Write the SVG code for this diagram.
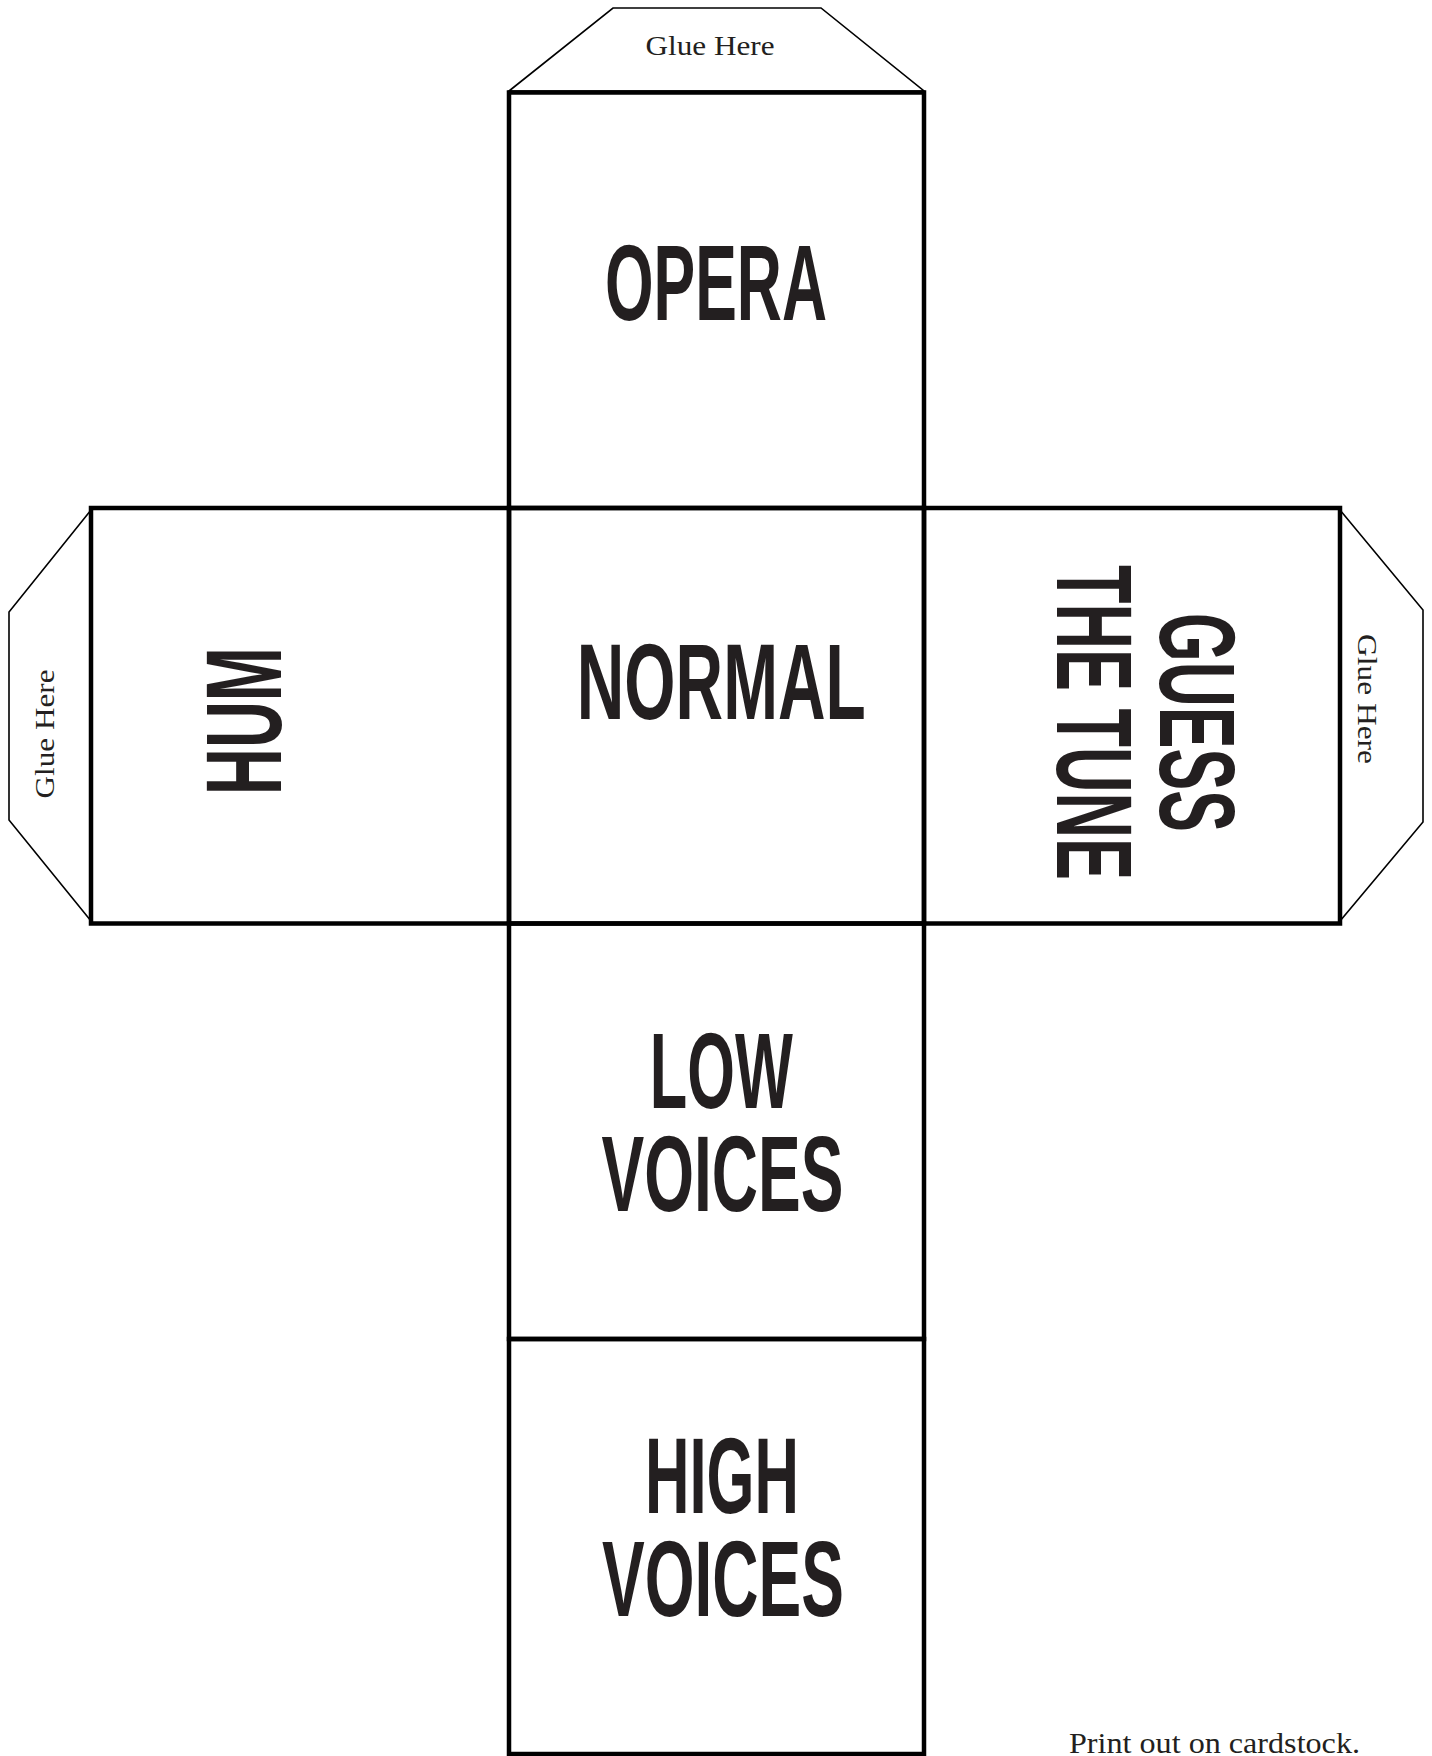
<svg xmlns="http://www.w3.org/2000/svg" width="1432" height="1756" viewBox="0 0 1432 1756">
<style>
.face{fill:none;stroke:#000;stroke-width:4.5;stroke-linecap:square}
.tab{fill:#fff;stroke:#000;stroke-width:1.6;stroke-linejoin:miter}
.big{font-family:"Liberation Sans",Arial,sans-serif;font-weight:bold;font-size:108px;fill:#231f20;text-anchor:middle}
.glue{font-family:"Liberation Serif","Times New Roman",serif;font-size:27px;fill:#231f20;text-anchor:middle}
.note{font-family:"Liberation Serif","Times New Roman",serif;font-size:29px;fill:#231f20}
</style>
<rect width="1432" height="1756" fill="#fff"/>
<g id="connectors">
<polygon id="tab-top" class="tab" points="509,91 613,8 821,8 924,91"/>
<polygon id="tab-left" class="tab" points="91,510 9,612 9,820 91,921"/>
<polygon id="tab-right" class="tab" points="1340,510 1423,610 1423,822 1340,921"/>
</g>
<g id="glue-top"><text class="glue" x="710" y="55" textLength="129" lengthAdjust="spacingAndGlyphs">Glue Here</text></g>
<g id="glue-left"><text class="glue" transform="translate(54,734) rotate(-90)" x="0" y="0" textLength="129" lengthAdjust="spacingAndGlyphs">Glue Here</text></g>
<g id="glue-right"><text class="glue" transform="translate(1358,699) rotate(90)" x="0" y="0" textLength="130" lengthAdjust="spacingAndGlyphs">Glue Here</text></g>
<g id="face-opera">
<rect class="face" x="509" y="92.5" width="415" height="415.5"/>
<text class="big" x="716" y="320" textLength="222" lengthAdjust="spacingAndGlyphs">OPERA</text>
</g>
<g id="face-hum">
<rect class="face" x="91" y="508" width="418" height="415.5"/>
<text class="big" transform="translate(281,721) rotate(-90)" x="0" y="0" textLength="148" lengthAdjust="spacingAndGlyphs">HUM</text>
</g>
<g id="face-normal">
<rect class="face" x="509" y="508" width="415" height="415.5"/>
<text class="big" x="721.3" y="719.3" textLength="289" lengthAdjust="spacingAndGlyphs">NORMAL</text>
</g>
<g id="face-guess">
<rect class="face" x="924" y="508" width="416" height="415.5"/>
<text class="big" transform="translate(0,722.5) rotate(90)"><tspan x="0" y="-1160" textLength="219" lengthAdjust="spacingAndGlyphs">GUESS</tspan><tspan x="0" y="-1057" textLength="315" lengthAdjust="spacingAndGlyphs">THE TUNE</tspan></text>
</g>
<g id="face-low">
<rect class="face" x="509" y="923.5" width="415" height="415.5"/>
<text class="big"><tspan x="721.3" y="1108.3" textLength="143" lengthAdjust="spacingAndGlyphs">LOW</tspan><tspan x="722.5" y="1210.7" textLength="242" lengthAdjust="spacingAndGlyphs">VOICES</tspan></text>
</g>
<g id="face-high">
<rect class="face" x="509" y="1339" width="415" height="415"/>
<text class="big"><tspan x="722" y="1513.3" textLength="154" lengthAdjust="spacingAndGlyphs">HIGH</tspan><tspan x="723" y="1616" textLength="242" lengthAdjust="spacingAndGlyphs">VOICES</tspan></text>
</g>
<g id="note"><text class="note" x="1069" y="1753" textLength="291" lengthAdjust="spacingAndGlyphs">Print out on cardstock.</text></g>
</svg>
